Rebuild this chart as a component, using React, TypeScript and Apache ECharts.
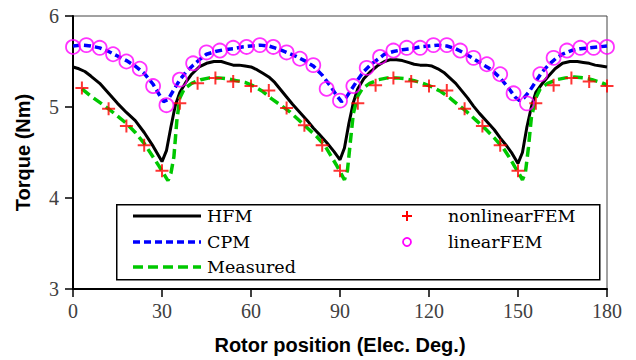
import React, { useEffect, useRef } from "react";
import * as echarts from "echarts";

const xTicks = [0, 30, 60, 90, 120, 150, 180];
const yTicks = [3, 4, 5, 6];

const hfm: [number, number][] = [
  [0, 5.44], [2, 5.42], [4, 5.39], [6, 5.34], [9, 5.26], [12, 5.15], [15, 5.04], [18, 4.94],
  [21, 4.85], [24, 4.72], [27, 4.57], [30, 4.40], [31.5, 4.52], [33, 4.78], [34.5, 5.02],
  [36, 5.16], [38, 5.27], [40, 5.36], [42.5, 5.44], [45, 5.48], [47.5, 5.50], [50, 5.50],
  [52, 5.48], [54, 5.46], [56, 5.46], [58, 5.45], [60, 5.44], [62, 5.41], [64, 5.37],
  [66, 5.33], [68, 5.27], [70, 5.19], [72, 5.11], [74, 5.03], [76.5, 4.94], [79, 4.85],
  [81, 4.77], [83, 4.70], [85.5, 4.61], [88, 4.51], [90, 4.42], [91.5, 4.55], [93, 4.82],
  [94.5, 5.05], [96, 5.20], [98, 5.31], [100, 5.38], [102.5, 5.45], [105, 5.50], [107, 5.52],
  [109, 5.52], [111, 5.51], [113, 5.49], [115, 5.47], [117, 5.46], [119, 5.46], [121, 5.45],
  [123, 5.42], [125, 5.38], [127, 5.32], [129, 5.26], [131, 5.18], [133, 5.10], [135, 5.01],
  [137, 4.93], [139.5, 4.84], [142, 4.75], [144, 4.66], [146, 4.58], [148, 4.49], [150, 4.38],
  [151.5, 4.50], [153, 4.78], [154.5, 5.00], [156, 5.16], [158, 5.25], [160, 5.33],
  [162.5, 5.42], [165, 5.48], [167.5, 5.50], [170, 5.50], [172, 5.49], [174, 5.48],
  [176, 5.46], [178, 5.45], [180, 5.44],
];

const cpm: [number, number][] = [
  [0, 5.67], [3, 5.68], [6, 5.67], [9, 5.65], [12, 5.61], [15, 5.56], [18, 5.51], [21, 5.45],
  [24, 5.37], [27, 5.25], [29, 5.14], [30.5, 5.06], [32, 5.08], [34, 5.19], [36, 5.30],
  [38, 5.38], [40.5, 5.46], [43, 5.53], [45, 5.58], [48, 5.61], [51, 5.63], [54, 5.64],
  [57, 5.66], [60, 5.67], [63, 5.68], [66, 5.67], [69, 5.64], [72, 5.60], [75, 5.56],
  [78, 5.51], [81, 5.45], [84, 5.35], [87, 5.22], [89, 5.12], [90.5, 5.06], [92, 5.10],
  [94, 5.20], [96, 5.30], [98, 5.39], [100.5, 5.47], [103, 5.53], [105, 5.58], [108, 5.61],
  [111, 5.63], [114, 5.64], [117, 5.66], [120, 5.67], [123, 5.68], [126, 5.67], [129, 5.64],
  [132, 5.59], [135, 5.53], [138, 5.47], [141, 5.41], [144, 5.32], [147, 5.20], [149, 5.11],
  [150.5, 5.07], [152, 5.10], [154, 5.18], [156, 5.28], [158, 5.38], [160.5, 5.47],
  [163, 5.54], [165, 5.58], [168, 5.62], [171, 5.64], [174, 5.65], [177, 5.66], [180, 5.67],
];

const measured: [number, number][] = [
  [3, 5.20], [6, 5.12], [9, 5.05], [12, 4.98], [15, 4.90], [18, 4.82], [21, 4.72], [24, 4.60],
  [27, 4.45], [29, 4.35], [30.5, 4.27], [32, 4.19], [33, 4.27], [34, 4.45], [35, 4.85],
  [36, 5.10], [37.5, 5.20], [40, 5.26], [43, 5.30], [46, 5.32], [49, 5.32], [52, 5.31],
  [55, 5.29], [58, 5.27], [61, 5.23], [64, 5.17], [67, 5.09], [70, 5.02], [73, 4.95],
  [76, 4.86], [79, 4.77], [82, 4.68], [85, 4.57], [87, 4.46], [89, 4.35], [90.5, 4.26],
  [91.5, 4.20], [92.5, 4.30], [93.5, 4.62], [94.5, 4.93], [96, 5.12], [97.5, 5.20],
  [100, 5.26], [103, 5.30], [106, 5.32], [109, 5.32], [112, 5.31], [115, 5.29], [118, 5.26],
  [121, 5.22], [124, 5.17], [127, 5.10], [130, 5.02], [133, 4.94], [136, 4.85], [139, 4.76],
  [142, 4.66], [145, 4.55], [147, 4.45], [149, 4.34], [150.5, 4.26], [151.5, 4.20],
  [152.5, 4.28], [153.5, 4.55], [154.5, 4.88], [156, 5.10], [157.5, 5.20], [160, 5.26],
  [163, 5.30], [166, 5.32], [169, 5.33], [172, 5.32], [175, 5.30], [178, 5.27], [180, 5.24],
];

const nonlinearFem: [number, number][] = [
  [3, 5.21], [12, 4.98], [18, 4.79], [24, 4.58], [30, 4.30], [36, 5.04], [42, 5.26],
  [48, 5.32], [54, 5.28], [60, 5.23], [66, 5.18], [72, 4.99], [78, 4.80], [84, 4.58],
  [90, 4.30], [96, 5.04], [102, 5.24], [108, 5.32], [114, 5.28], [120, 5.23], [126, 5.18],
  [132, 4.98], [138, 4.79], [144, 4.58], [150, 4.30], [156, 5.04], [162, 5.24], [168, 5.32],
  [174, 5.28], [180, 5.23],
];

const linearFem: [number, number][] = [
  [0, 5.66], [4.5, 5.68], [9, 5.65], [13.5, 5.58], [18, 5.50], [22.5, 5.42], [27, 5.23],
  [31.5, 5.02], [36, 5.30], [40.5, 5.48], [45, 5.60], [49.5, 5.62], [54, 5.65], [58.5, 5.66],
  [63, 5.68], [67.5, 5.66], [72, 5.60], [76.5, 5.53], [81, 5.46], [85.5, 5.20], [90, 5.07],
  [94.5, 5.23], [99, 5.43], [103.5, 5.55], [108, 5.62], [112.5, 5.65], [117, 5.65],
  [121.5, 5.68], [126, 5.68], [130.5, 5.62], [135, 5.54], [139.5, 5.47], [144, 5.36],
  [148.5, 5.15], [153, 5.04], [157.5, 5.36], [162, 5.54], [166.5, 5.62], [171, 5.65],
  [175.5, 5.65], [180, 5.66],
];

const seriesNames = ["HFM", "CPM", "Measured", "nonlinearFEM", "linearFEM"];
const PLUS = "path://M5,0L5,10M0,5L10,5";

const C_HFM = "#000000";
const C_CPM = "#0000ff";
const C_MEAS = "#00c800";
const C_NL = "#ff0000";
const C_LIN = "#ff00ff";
const DASH_CPM = [7, 4];
const DASH_MEAS = [10, 5];

export default function App() {
  const ref = useRef<HTMLDivElement>(null);
  useEffect(() => {
    if (!ref.current) return;
    const chart = echarts.init(ref.current, null, { renderer: "svg" });
    const tickFont = { fontFamily: "Liberation Serif", fontSize: 20, color: "#404040" };
    const legendFont = '17.5px "DejaVu Serif"';
    const rowY = [216, 242, 267];
    const lx1 = 133, lx2 = 201, tx1 = 207, mx = 407, tx2 = 448;
    const legText = (name: string, x: number, y: number) => ({
      type: "text", x, y, z: 10,
      style: { text: name, font: legendFont, fill: "#000", verticalAlign: "middle", textVerticalAlign: "middle" },
    });
    chart.setOption({
      animation: false,
      backgroundColor: "#fff",
      grid: {
        left: 73, right: 29, top: 16, bottom: 70,
        show: true, borderColor: "#444", borderWidth: 1,
      },
      xAxis: {
        type: "value", min: 0, max: 180, interval: 30,
        name: "Rotor position (Elec. Deg.)",
        nameLocation: "middle", nameGap: 46,
        nameTextStyle: { fontFamily: "Liberation Sans", fontWeight: "bold", fontSize: 20, color: "#000" },
        axisLine: { lineStyle: { color: "#000", width: 2 } },
        axisTick: { length: 8, lineStyle: { color: "#000", width: 1.5 } },
        axisLabel: { ...tickFont, margin: 12, formatter: (v: number) => (xTicks.includes(v) ? String(v) : "") },
        splitLine: { show: false },
      },
      yAxis: {
        type: "value", min: 3, max: 6, interval: 1,
        name: "Torque (Nm)",
        nameLocation: "middle", nameGap: 40,
        nameTextStyle: { fontFamily: "Liberation Sans", fontWeight: "bold", fontSize: 20, color: "#000" },
        axisLine: { lineStyle: { color: "#000", width: 2 } },
        axisTick: { length: 8, lineStyle: { color: "#000", width: 1.5 } },
        axisLabel: { ...tickFont, margin: 14, formatter: (v: number) => (yTicks.includes(v) ? String(v) : "") },
        splitLine: { show: false },
      },
      graphic: [
        {
          type: "rect", left: 116, top: 204, z: 5,
          shape: { width: 483, height: 75 },
          style: { fill: "#fff", stroke: "#000", lineWidth: 1.5 },
        },
        { type: "line", z: 10, shape: { x1: lx1, y1: rowY[0], x2: lx2, y2: rowY[0] }, style: { stroke: C_HFM, lineWidth: 3 } },
        { type: "line", z: 10, shape: { x1: lx1, y1: rowY[1], x2: lx2, y2: rowY[1] }, style: { stroke: C_CPM, lineWidth: 3.5, lineDash: DASH_CPM } },
        { type: "line", z: 10, shape: { x1: lx1, y1: rowY[2], x2: lx2, y2: rowY[2] }, style: { stroke: C_MEAS, lineWidth: 3.5, lineDash: DASH_MEAS } },
        legText(seriesNames[0], tx1, rowY[0]),
        legText(seriesNames[1], tx1, rowY[1]),
        legText(seriesNames[2], tx1, rowY[2]),
        { type: "line", z: 10, shape: { x1: mx - 5, y1: rowY[0], x2: mx + 5, y2: rowY[0] }, style: { stroke: C_NL, lineWidth: 2 } },
        { type: "line", z: 10, shape: { x1: mx, y1: rowY[0] - 5, x2: mx, y2: rowY[0] + 5 }, style: { stroke: C_NL, lineWidth: 2 } },
        { type: "circle", z: 10, shape: { cx: mx, cy: rowY[1], r: 4 }, style: { fill: "transparent", stroke: C_LIN, lineWidth: 1.8 } },
        legText(seriesNames[3], tx2, rowY[0]),
        legText(seriesNames[4], tx2, rowY[1]),
      ],
      series: [
        {
          name: seriesNames[0], type: "line", data: hfm, symbol: "none", showSymbol: false,
          lineStyle: { color: C_HFM, width: 3 }, itemStyle: { color: C_HFM }, z: 2,
        },
        {
          name: seriesNames[1], type: "line", data: cpm, symbol: "none", showSymbol: false,
          lineStyle: { color: C_CPM, width: 3.5, type: DASH_CPM }, itemStyle: { color: C_CPM }, z: 2,
        },
        {
          name: seriesNames[2], type: "line", data: measured, symbol: "none", showSymbol: false,
          lineStyle: { color: C_MEAS, width: 3.5, type: DASH_MEAS }, itemStyle: { color: C_MEAS }, z: 2,
        },
        {
          name: seriesNames[3], type: "scatter", data: nonlinearFem, symbol: PLUS, symbolSize: 13,
          itemStyle: { color: "transparent", borderColor: C_NL, borderWidth: 2 }, z: 3,
        },
        {
          name: seriesNames[4], type: "scatter", data: linearFem, symbol: "circle", symbolSize: 14,
          itemStyle: { color: "transparent", borderColor: C_LIN, borderWidth: 1.8 }, z: 3,
        },
      ],
    });
    return () => chart.dispose();
  }, []);
  return <div ref={ref} style={{ width: 636, height: 360, position: "absolute", left: 0, top: 0 }} />;
}
